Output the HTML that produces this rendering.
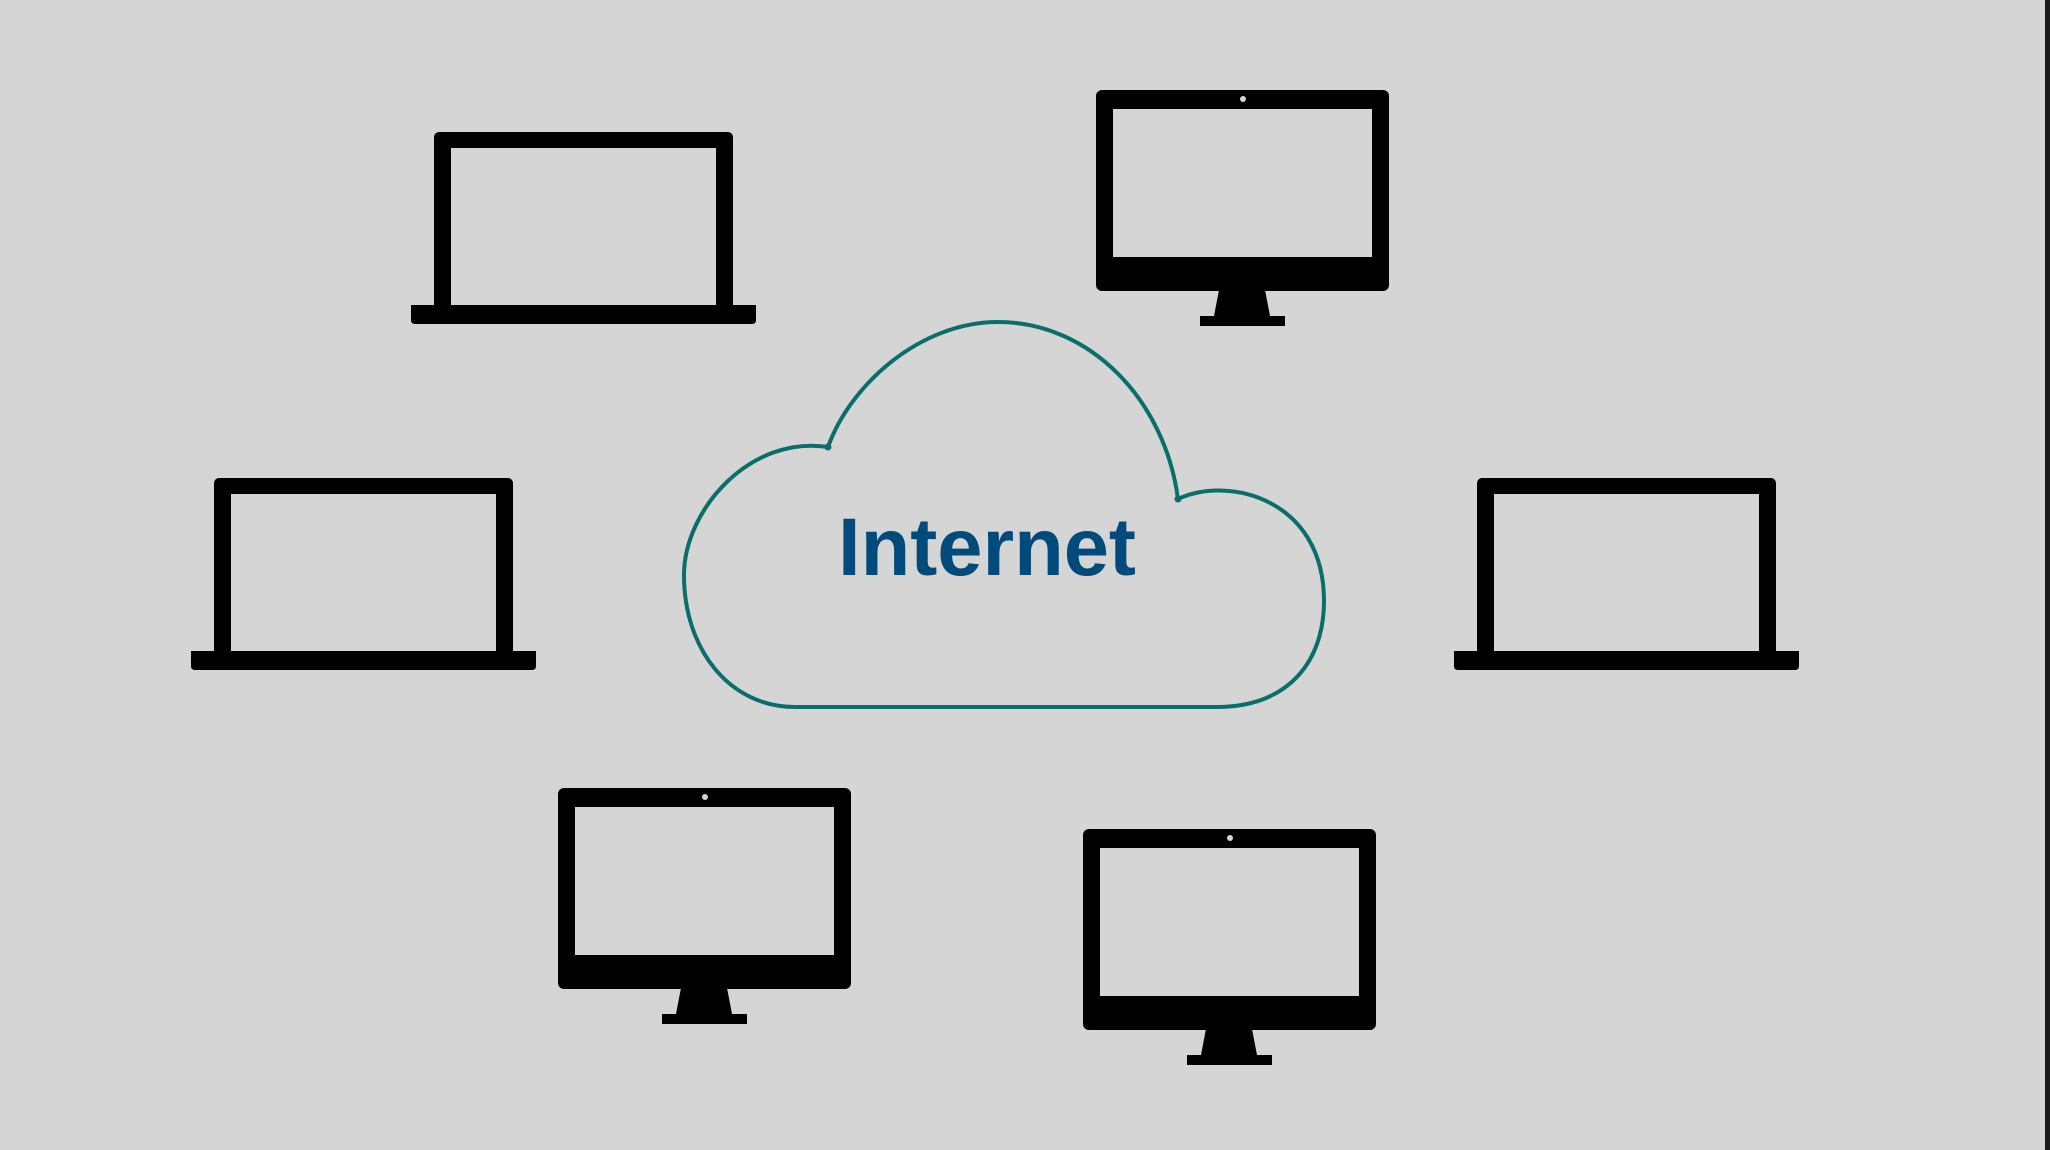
<!DOCTYPE html>
<html><head><meta charset="utf-8"><style>
html,body{margin:0;padding:0;background:#d5d5d5;}
svg{display:block;}
</style></head><body>
<svg width="2050" height="1150" viewBox="0 0 2050 1150" xmlns="http://www.w3.org/2000/svg">
<defs>
<g id="mon">
<rect x="0" y="0" width="293" height="201" rx="6" fill="#000"/>
<rect x="17" y="19" width="259" height="148" fill="#d5d5d5"/>
<circle cx="147" cy="9" r="3" fill="#d5d5d5"/>
<polygon points="123,200 169,200 174,226 118,226" fill="#000"/>
<rect x="104" y="226" width="85" height="10" fill="#000"/>
</g>
<g id="lap">
<rect x="0" y="0" width="299" height="180" rx="5" fill="#000"/>
<rect x="17" y="16" width="265" height="164" fill="#d5d5d5"/>
<path d="M-23,173 H322 V188 Q322,192 318,192 H-19 Q-23,192 -23,188 Z" fill="#000"/>
</g>
</defs>
<rect x="0" y="0" width="2050" height="1150" fill="#d5d5d5"/>
<rect x="2045" y="0" width="5" height="1150" fill="#1a1a1a"/>
<use href="#mon" x="1096" y="90"/>
<use href="#mon" x="558" y="788"/>
<use href="#mon" x="1083" y="829"/>
<use href="#lap" x="434" y="132"/>
<use href="#lap" x="214" y="478"/>
<use href="#lap" x="1477" y="478"/>
<path d="M828,447 C850,385 920,322 998,322 C1090,322 1165,400 1178,499 C1230,475 1324,500 1324,601 C1324,660 1290,707 1216,707 L795,707 C730,707 684,650 684,575 C684,510 750,435 828,447 Z" fill="none" stroke="#0a6e6a" stroke-width="4" stroke-linejoin="round"/>
<circle cx="828" cy="447" r="3.5" fill="#0a6e6a"/>
<circle cx="1178" cy="499" r="3.5" fill="#0a6e6a"/>
<text x="838" y="575" font-family="Liberation Sans, sans-serif" font-weight="bold" font-size="82" fill="#004b7c" textLength="298" lengthAdjust="spacingAndGlyphs">Internet</text>
</svg>
</body></html>
